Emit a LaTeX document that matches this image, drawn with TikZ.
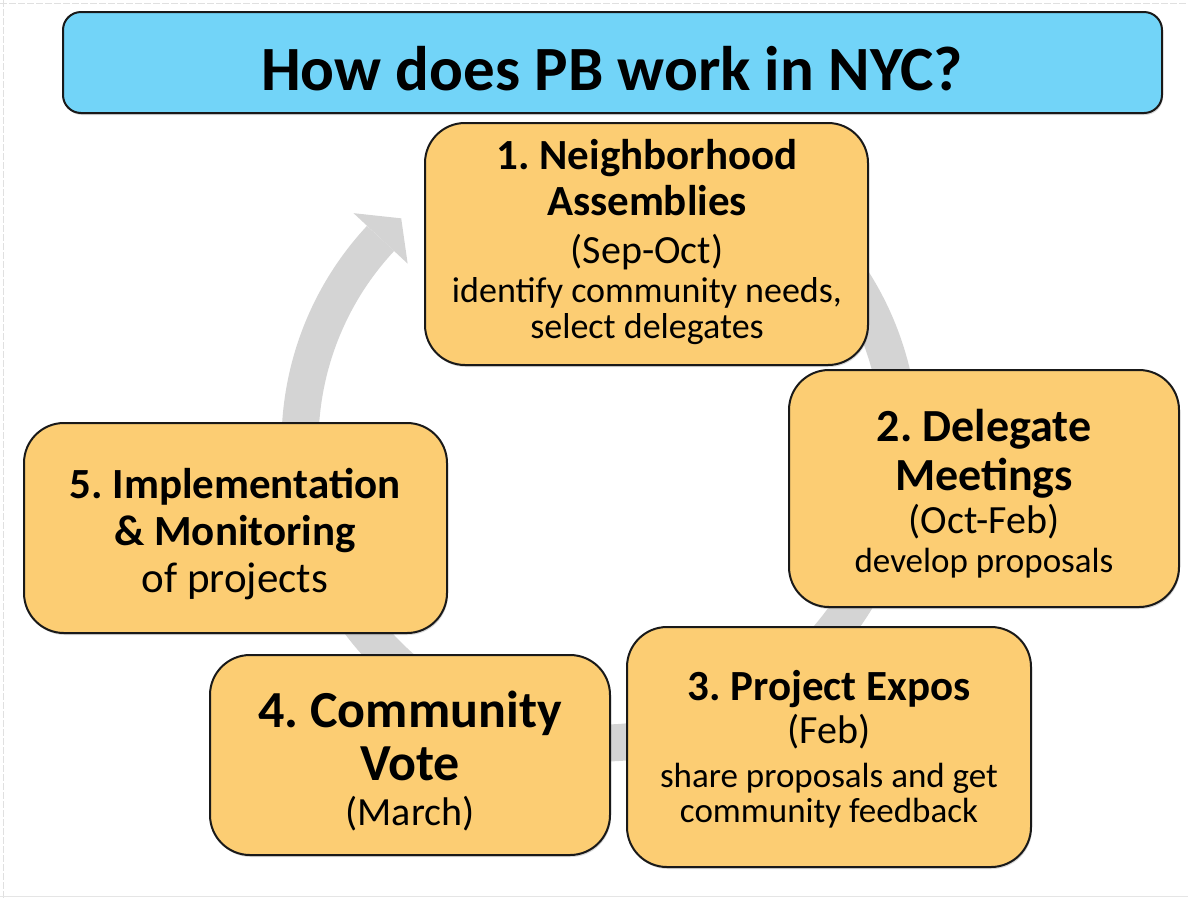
\documentclass[tikz,border=0pt]{standalone}
\usepackage{fontspec}
\setmainfont{Carlito}
\usepackage{tikz}
\usetikzlibrary{shadows}
\definecolor{titleblue}{RGB}{114,212,248}
\definecolor{steporange}{RGB}{252,205,115}
\definecolor{ringgray}{RGB}{212,212,212}
\newcommand{\stephead}[2]{\smash{\fontsize{#1}{#1}\selectfont\bfseries #2}}
\newcommand{\stepnote}[2]{\smash{\fontsize{#1}{#1}\selectfont #2}}
\frenchspacing

\begin{document}
\begin{tikzpicture}[x=1pt,y=-1pt]
            \tikzstyle{every node}+=[inner sep=0pt]
            \tikzstyle{stepbox}=[draw=black!90, line width=2pt, fill=steporange, rounded corners=40pt, drop shadow={shadow xshift=1pt, shadow yshift=-2pt, opacity=0.3}]
            \tikzstyle{titlebar}=[draw=black!90, line width=2pt, fill=titleblue, rounded corners=18pt, drop shadow={shadow xshift=1pt, shadow yshift=-2pt, opacity=0.3}]
            \tikzstyle{steptext}=[align=center, font=\fontsize{36}{0}\selectfont]
            \useasboundingbox (0,0) rectangle (1188,898);
            \draw [black!12, dash pattern=on 7pt off 2pt] (0,3) -- (1188,3);
            \draw [black!12, dash pattern=on 7pt off 2pt] (3,0) -- (3,898);
            \draw [black!10] (0,896) -- (1188,896);
            \coordinate (hub) at (600,443);
            \draw [ringgray, line width=37pt] ([shift={(107:300pt)}]hub) arc (107:-223:300pt);
            \fill [ringgray] ([shift={(-223:337pt)}]hub) -- ([shift={(-228.5:300pt)}]hub) -- ([shift={(-223:263pt)}]hub) -- cycle;
            \node [titlebar, minimum width=1099pt, minimum height=101pt] (title) at (612.5,62.5) {};
            \node [font=\fontsize{63}{63}\selectfont\bfseries, anchor=base] (titletext) at (612,90) {How does PB work in NYC?};
            \node [stepbox, minimum width=443pt, minimum height=242pt] (assembly) at (646.5,244) {};
            \node [steptext] (assemblytext) at (647,253.5) {\stephead{43}{1. Neighborhood}\\[46pt]\stephead{43}{Assemblies}\\[48pt]\stepnote{40}{(Sep-Oct)}\\[39pt]\stepnote{36}{identify community needs,}\\[36pt]\stepnote{36}{select delegates}};
            \node [stepbox, minimum width=390pt, minimum height=237pt] (delegate) at (984,488.5) {};
            \node [steptext] (delegatetext) at (984,506.5) {\stephead{46}{2. Delegate}\\[49pt]\stephead{46}{Meetings}\\[43pt]\stepnote{40}{(Oct-Feb)}\\[39pt]\stepnote{35}{develop proposals}};
            \node [stepbox, minimum width=404pt, minimum height=240pt] (expo) at (829,747) {};
            \node [steptext] (expotext) at (829,761) {\stephead{43}{3. Project Expos}\\[43pt]\stepnote{40}{(Feb)}\\[44pt]\stepnote{35}{share proposals and get}\\[35pt]\stepnote{35}{community feedback}};
            \node [stepbox, minimum width=400pt, minimum height=200pt] (vote) at (410,755) {};
            \node [steptext] (votetext) at (410,776) {\stephead{52}{4. Community}\\[53pt]\stephead{52}{Vote}\\[45pt]\stepnote{40}{(March)}};
            \node [stepbox, minimum width=423pt, minimum height=210pt] (monitor) at (235.5,528) {};
            \node [steptext] (monitortext) at (235,545) {\stephead{43}{5. Implementation}\\[47pt]\stephead{43}{\& Monitoring}\\[47pt]\stepnote{43}{of projects}};
\end{tikzpicture}
\end{document}
